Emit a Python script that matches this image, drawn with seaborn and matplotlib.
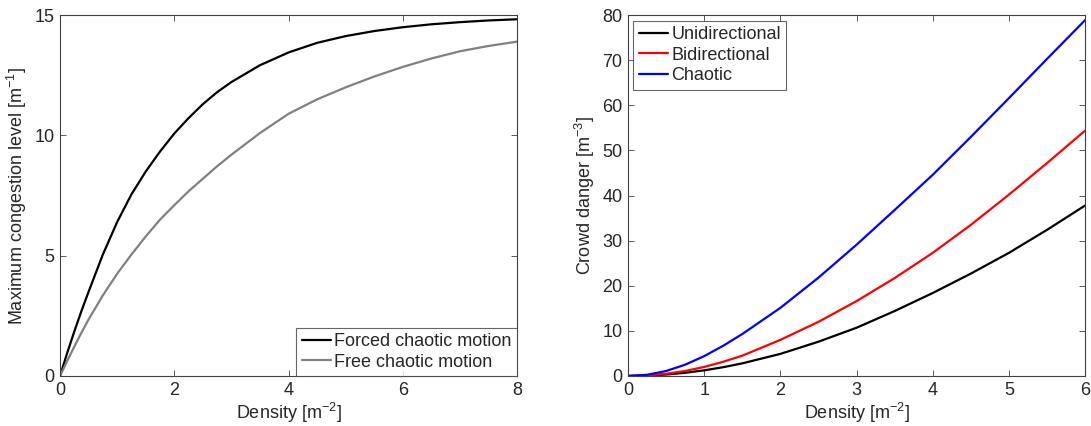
import matplotlib
matplotlib.use("Agg")
import matplotlib.pyplot as plt
import seaborn as sns
import pandas as pd

# left panel: maximum congestion level vs density
density_left = [0, 0.125, 0.25, 0.375, 0.5, 0.75, 1, 1.25, 1.5, 1.75, 2, 2.25, 2.5, 2.75, 3,
                3.5, 4, 4.5, 5, 5.5, 6, 6.5, 7, 7.5, 8]
forced_chaotic = [0, 0.95, 1.85, 2.7, 3.5, 5.05, 6.4, 7.55, 8.5, 9.33, 10.08, 10.72, 11.3, 11.8, 12.22,
                  12.92, 13.45, 13.85, 14.13, 14.34, 14.5, 14.62, 14.71, 14.78, 14.83]
free_chaotic = [0, 0.62, 1.22, 1.8, 2.35, 3.35, 4.25, 5.05, 5.8, 6.5, 7.1, 7.68, 8.2, 8.72, 9.2,
                10.1, 10.9, 11.5, 12.0, 12.45, 12.85, 13.2, 13.5, 13.72, 13.9]

# right panel: crowd danger vs density
density_right = [0, 0.25, 0.5, 0.75, 1, 1.25, 1.5, 2, 2.5, 3, 3.5, 4, 4.5, 5, 5.5, 6]
unidirectional = [0, 0.08, 0.32, 0.71, 1.25, 1.95, 2.8, 4.9, 7.6, 10.7, 14.4, 18.4,
                  22.7, 27.3, 32.4, 37.8]
bidirectional = [0, 0.12, 0.48, 1.1, 2.0, 3.15, 4.5, 8.0, 12.0, 16.6, 21.7, 27.3,
                 33.5, 40.2, 47.2, 54.4]
chaotic = [0, 0.27, 1.1, 2.5, 4.4, 6.7, 9.3, 15.1, 21.8, 29.1, 36.8, 44.6,
           53.0, 61.6, 70.3, 78.9]

sns.set_style("ticks")
plt.rcParams["font.family"] = ["Liberation Sans", "DejaVu Sans"]
plt.rcParams["mathtext.default"] = "regular"
plt.rcParams["font.size"] = 13

df_left = pd.DataFrame({
    "x": density_left * 2,
    "y": forced_chaotic + free_chaotic,
    "series": ["Forced chaotic motion"] * len(density_left) + ["Free chaotic motion"] * len(density_left),
})
df_right = pd.DataFrame({
    "x": density_right * 3,
    "y": unidirectional + bidirectional + chaotic,
    "series": ["Unidirectional"] * len(density_right) + ["Bidirectional"] * len(density_right)
              + ["Chaotic"] * len(density_right),
})

fig = plt.figure(figsize=(10.91, 4.26), dpi=100)
ax1 = fig.add_axes([0.055, 0.1174, 0.419, 0.847])
ax2 = fig.add_axes([0.5756, 0.1174, 0.419, 0.847])

sns.lineplot(data=df_left, x="x", y="y", hue="series", ax=ax1,
             palette={"Forced chaotic motion": "black", "Free chaotic motion": "#808080"},
             linewidth=1.6, sort=False)
sns.lineplot(data=df_right, x="x", y="y", hue="series", ax=ax2,
             palette={"Unidirectional": "black", "Bidirectional": "#ff0000", "Chaotic": "#0000ff"},
             linewidth=1.6, sort=False)

ax1.set_xlim(0, 8)
ax1.set_ylim(0, 15)
ax1.set_xticks([0, 2, 4, 6, 8])
ax1.set_yticks([0, 5, 10, 15])
ax1.set_xlabel("Density [m$^{-2}$]", labelpad=2)
ax1.set_ylabel("Maximum congestion level [m$^{-1}$]", labelpad=4)

ax2.set_xlim(0, 6)
ax2.set_ylim(0, 80)
ax2.set_xticks(range(0, 7))
ax2.set_yticks(range(0, 90, 10))
ax2.set_xlabel("Density [m$^{-2}$]", labelpad=2)
ax2.set_ylabel("Crowd danger [m$^{-3}$]", labelpad=4)

for ax in (ax1, ax2):
    ax.tick_params(direction="in", top=True, right=True, length=4, width=0.6,
                   color="#404040", labelsize=13, pad=4)
    for s in ax.spines.values():
        s.set_color("#404040")
        s.set_linewidth(0.8)

leg1 = ax1.legend(loc="lower right", borderaxespad=0, fancybox=False, fontsize=13,
                  handlelength=1.6, handletextpad=0.2, labelspacing=0.2, borderpad=0.3)
leg1.get_frame().set_edgecolor("#404040")
leg1.get_frame().set_linewidth(0.8)
leg2 = ax2.legend(loc="upper left", borderaxespad=0.3, fancybox=False, fontsize=13,
                  handlelength=1.6, handletextpad=0.2, labelspacing=0.2, borderpad=0.3)
leg2.get_frame().set_edgecolor("#404040")
leg2.get_frame().set_linewidth(0.8)

fig.savefig("out.png", dpi=100)
